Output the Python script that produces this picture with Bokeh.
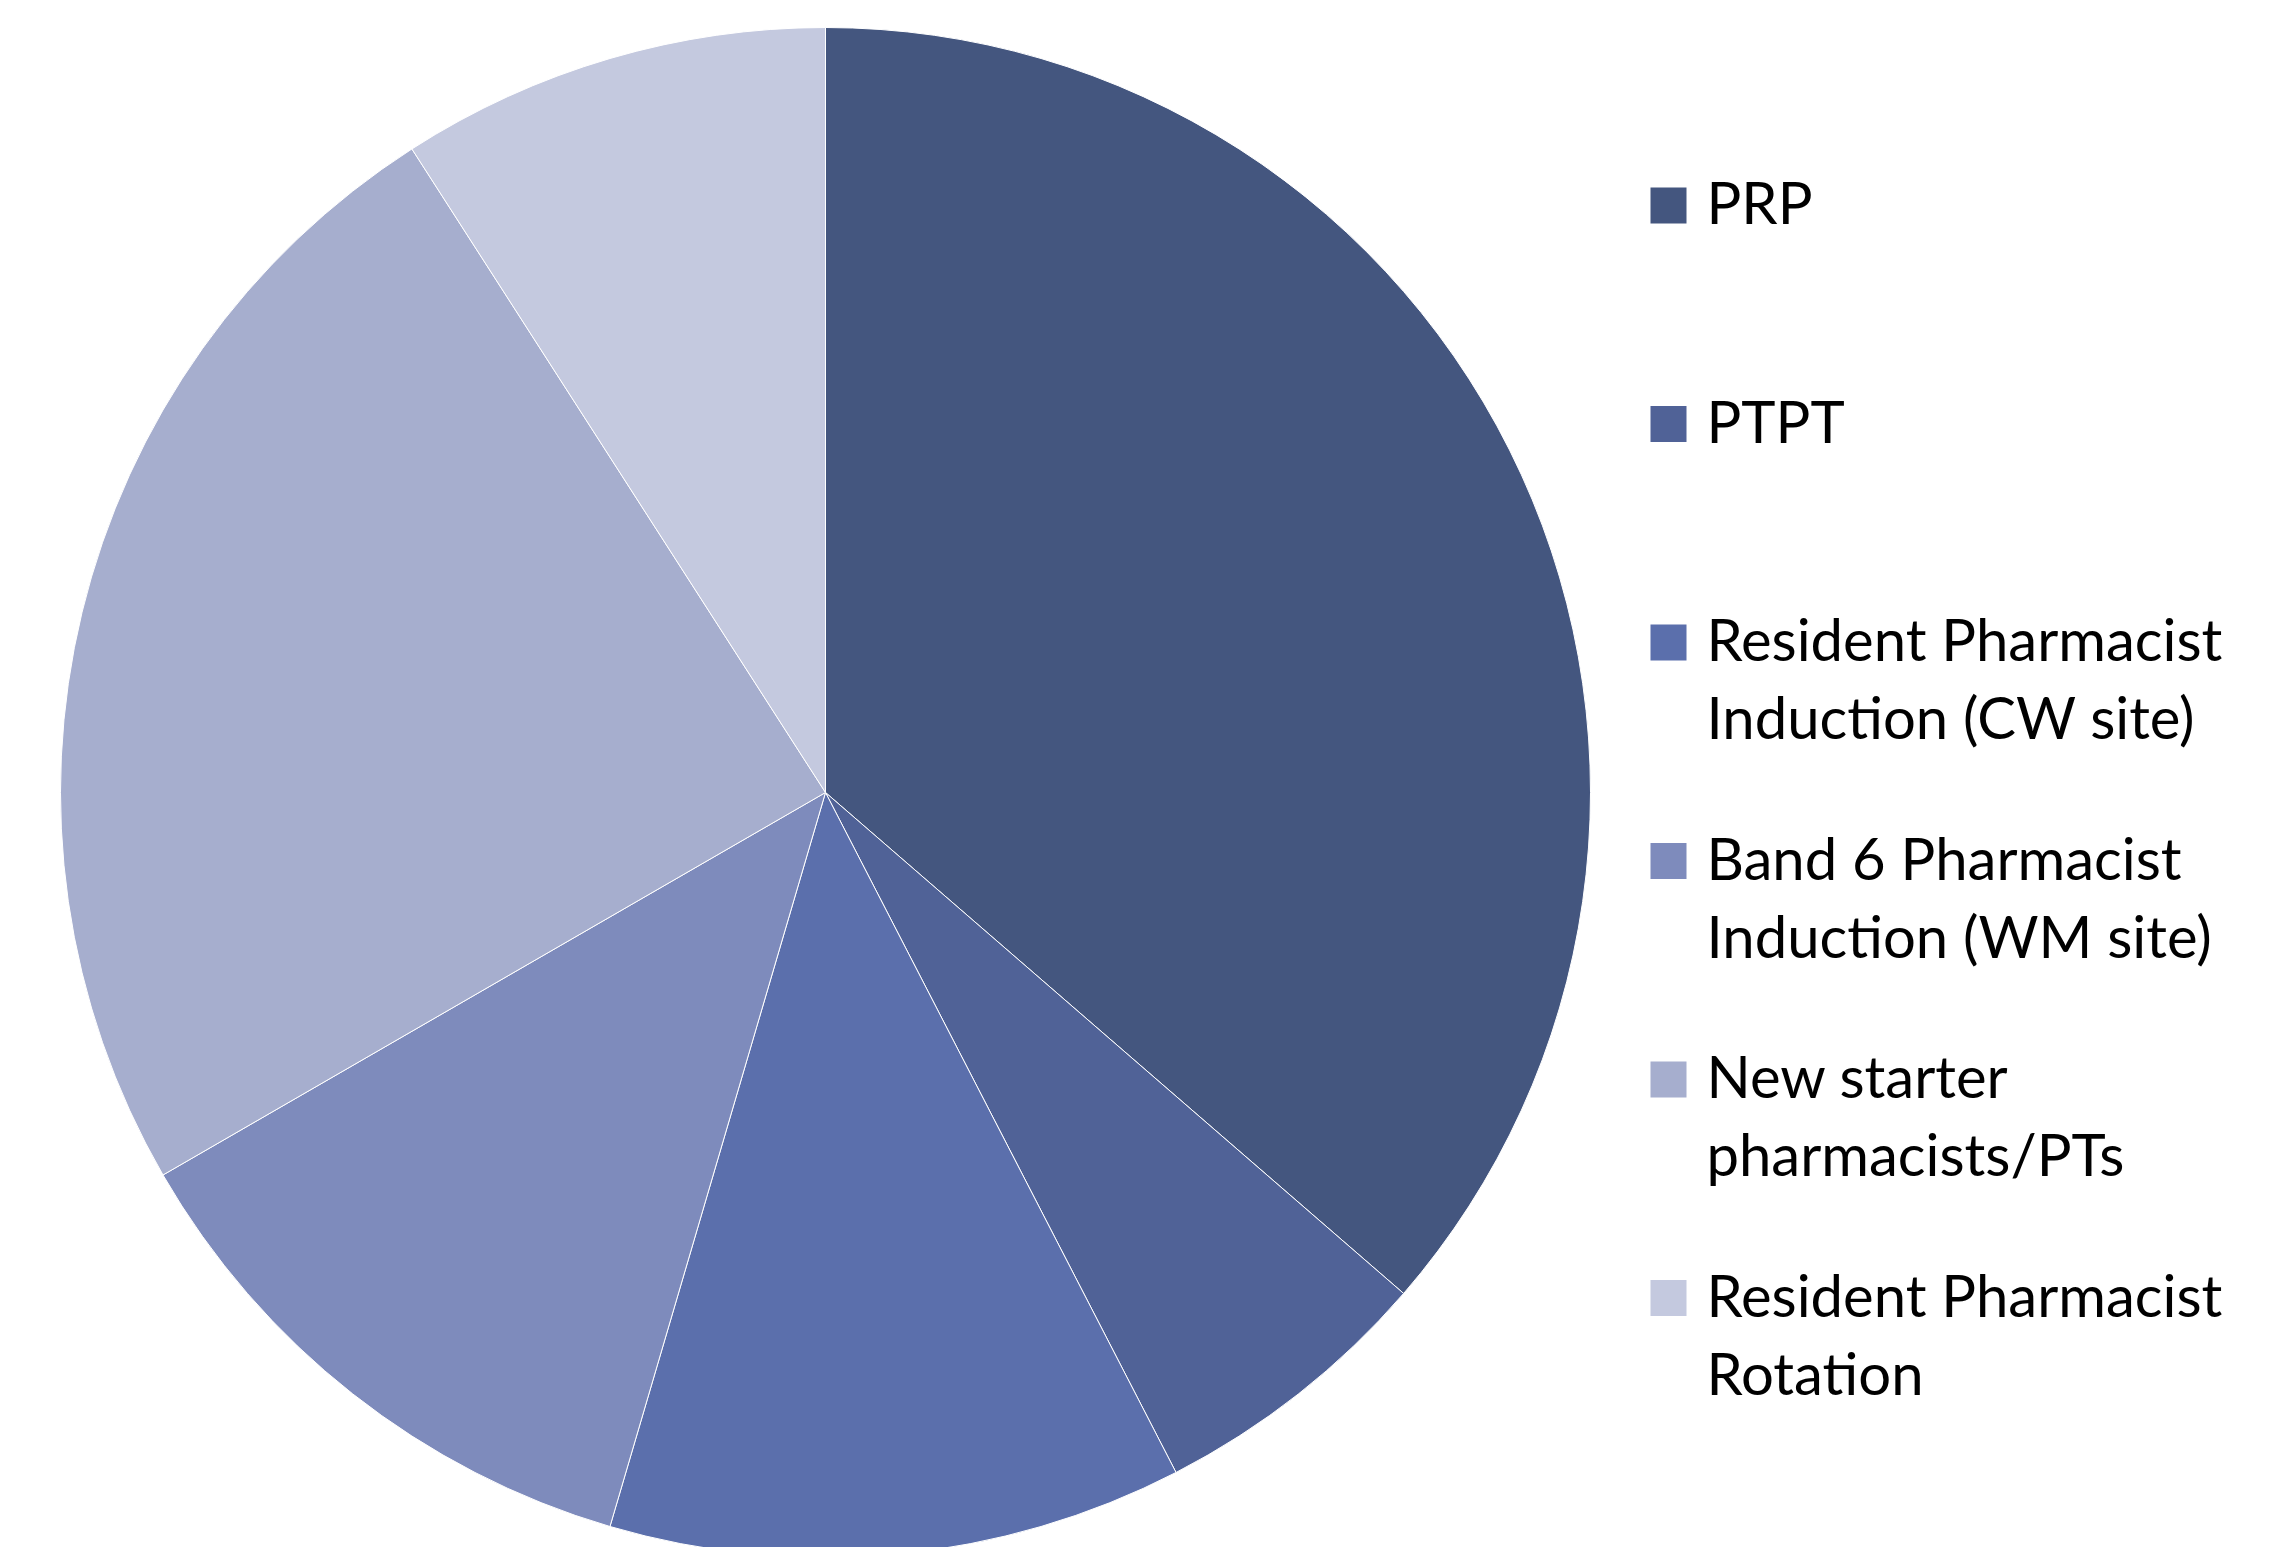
import numpy as np
from bokeh.plotting import figure
from bokeh.models import Range1d
from bokeh.core.properties import value
from bokeh.embed import file_html
from bokeh.resources import INLINE

categories = ["PRP", "PTPT", "Resident Pharmacist\nInduction (CW site)",
              "Band 6 Pharmacist\nInduction (WM site)", "New starter\npharmacists/PTs",
              "Resident Pharmacist\nRotation"]
counts = [12, 2, 4, 4, 8, 3]
colors = ["#44567F", "#506297", "#5B6FAC", "#7E8BBC", "#A6AECE", "#C4C9DF"]

W, H = 2280, 1547
p = figure(width=W, height=H, output_backend="svg", toolbar_location=None,
           x_range=Range1d(0, W), y_range=Range1d(0, H), min_border=0)
p.axis.visible = False
p.grid.visible = False
p.outline_line_color = None
p.background_fill_color = "white"
p.border_fill_color = "white"

def px(x):
    return x

def py(y):
    return H - y

vals = np.array(counts, dtype=float)
frac = vals / vals.sum()
cum = np.concatenate([[0], np.cumsum(frac)])
start = np.pi / 2 - 2 * np.pi * cum[:-1]
end = np.pi / 2 - 2 * np.pi * cum[1:]

cx, cy, r = 825, 792, 765
p.wedge(x=[px(cx)] * len(vals), y=[py(cy)] * len(vals), radius=r,
        start_angle=start, end_angle=end, direction="clock",
        fill_color=colors, line_color="white", line_width=1)

# legend
lx_sq = 1668
lx_txt = 1706
first_base = 223
entry_gap = 218.5
line_gap = 78
text_shift = 22
font = value("Lato")
for i, (lab, col) in enumerate(zip(categories, colors)):
    base = first_base + i * entry_gap
    p.rect(x=[px(lx_sq)], y=[py(base - 18)], width=36, height=36,
           fill_color=col, line_color=None)
    for j, line in enumerate(lab.split("\n")):
        p.text(x=[px(lx_txt)], y=[py(base - text_shift + j * line_gap)], text=[line],
               text_font=font, text_font_size="58px", text_color="black",
               text_baseline="alphabetic", text_align="left")

open("out.html", "w").write(file_html(p, INLINE))
